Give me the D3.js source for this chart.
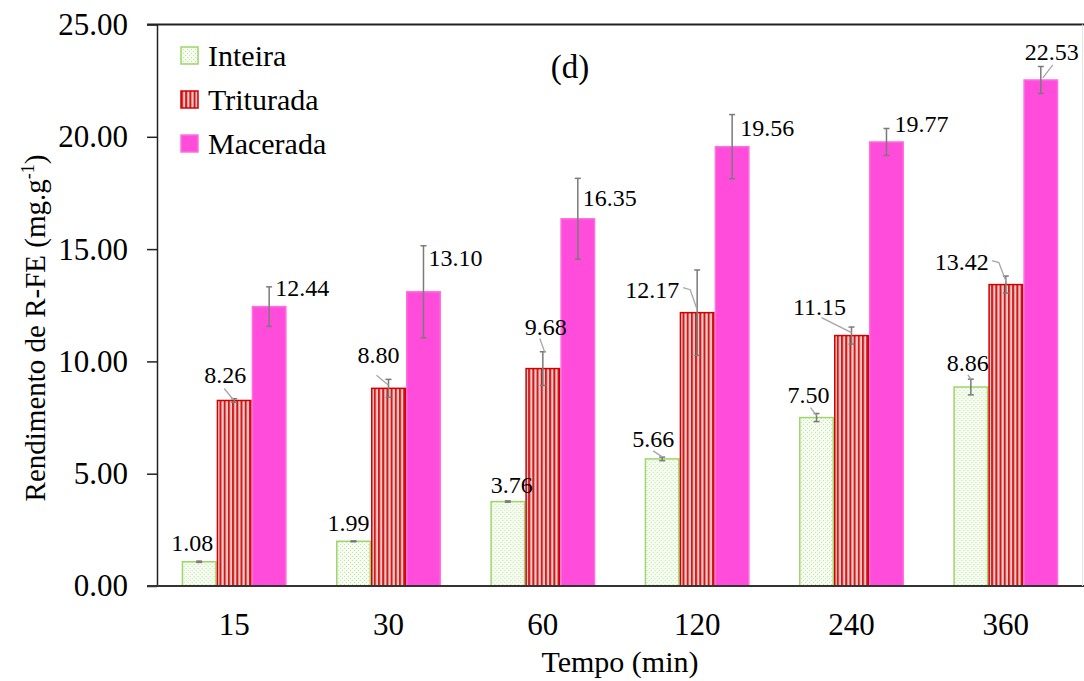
<!DOCTYPE html>
<html>
<head>
<meta charset="utf-8">
<script src="https://cdn.jsdelivr.net/npm/d3@7"></script>
<style>
  html, body { margin: 0; padding: 0; background: #fff; }
  svg text { font-family: "Liberation Serif", "DejaVu Serif", serif; fill: #000; }
</style>
</head>
<body>
<svg id="chart" width="1084" height="681"></svg>
<script>
const FONT = '"Liberation Serif", "DejaVu Serif", serif';

// Extraction time groups (min)
const tempos = ["15", "30", "60", "120", "240", "360"];
const series = ["Inteira", "Triturada", "Macerada"];

// Yield of R-FE (mg.g-1) per sample preparation
const inteira   = [1.08, 1.99, 3.76, 5.66, 7.50, 8.86];
const triturada = [8.26, 8.80, 9.68, 12.17, 11.15, 13.42];
const macerada  = [12.44, 13.10, 16.35, 19.56, 19.77, 22.53];

// Standard deviations (error bars)
const inteiraSd   = [0.03, 0.02, 0.03, 0.08, 0.18, 0.35];
const trituradaSd = [0.08, 0.40, 0.75, 1.90, 0.38, 0.38];
const maceradaSd  = [0.88, 2.05, 1.80, 1.43, 0.60, 0.60];

const yTicks = [0, 5, 10, 15, 20, 25];

// Value-label placement relative to the top of each bar, with optional leader points
const labelLayout = {
  Inteira: [
    { dx: -7, dy: -19 },
    { dx: -5, dy: -18 },
    { dx: 4, dy: -17 },
    { dx: -9, dy: -20, lead: [[-9, -8], [0, -2]] },
    { dx: -8, dy: -23, lead: [[-6, -10], [0, -2]] },
    { dx: -3, dy: -24, lead: [[-3, -12], [0, -8]] }
  ],
  Triturada: [
    { dx: -9, dy: -25, lead: [[-10, -12], [-1, -1]] },
    { dx: -10, dy: -33, lead: [[-12, -13], [0, -3]] },
    { dx: 3, dy: -42, lead: [[-3, -30], [2, -16]] },
    { dx: -45, dy: -23, lead: [[-14, -25], [-7, -23], [0, -3]] },
    { dx: -32, dy: -29, lead: [[-30, -18], [0, -3]] },
    { dx: -44, dy: -23, lead: [[-14, -24], [-7, -22], [1, -1]] }
  ],
  Macerada: [
    { dx: 33, dy: -19 },
    { dx: 32, dy: -34 },
    { dx: 32, dy: -21 },
    { dx: 35, dy: -19 },
    { dx: 35, dy: -18 },
    { dx: 11, dy: -28, lead: [[12, -15], [2, -2]] }
  ]
};

const rows = tempos.map((t, i) => ({
  tempo: t,
  values: [
    { key: "Inteira", v: inteira[i], sd: inteiraSd[i], i },
    { key: "Triturada", v: triturada[i], sd: trituradaSd[i], i },
    { key: "Macerada", v: macerada[i], sd: maceradaSd[i], i }
  ]
}));

const svg = d3.select("#chart");
const plotLeft = 157, plotRight = 1083, plotTop = 24.5, plotBottom = 586;

const x0 = d3.scaleBand().domain(tempos).range([plotLeft, plotRight])
  .paddingInner(0.32).paddingOuter(0.16);
const x1 = d3.scaleBand().domain(series).range([0, x0.bandwidth()]);
const y = d3.scaleLinear().domain([0, 25]).range([plotBottom, plotTop]);

// Fill patterns
const defs = svg.append("defs");
const dots = defs.append("pattern").attr("id", "pInteira")
  .attr("patternUnits", "userSpaceOnUse").attr("width", 4).attr("height", 4);
dots.append("rect").attr("width", 4).attr("height", 4).attr("fill", "#f6fbf1");
dots.append("rect").attr("x", 0).attr("y", 0).attr("width", 1).attr("height", 1).attr("fill", "#c4e3a3");
dots.append("rect").attr("x", 2).attr("y", 2).attr("width", 1).attr("height", 1).attr("fill", "#c4e3a3");

const stripes = defs.append("pattern").attr("id", "pTriturada")
  .attr("patternUnits", "userSpaceOnUse").attr("width", 4.2).attr("height", 10);
stripes.append("rect").attr("width", 4.2).attr("height", 10).attr("fill", "#f3c9c9");
stripes.append("rect").attr("width", 2).attr("height", 10).attr("fill", "#cf1a1a");

const fills = { Inteira: "url(#pInteira)", Triturada: "url(#pTriturada)", Macerada: "#ff4cdb" };
const strokes = { Inteira: "#9ed66a", Triturada: "#d40000", Macerada: "#ff6ee0" };

// Bars
const groups = svg.append("g").selectAll("g").data(rows).join("g")
  .attr("transform", d => `translate(${x0(d.tempo)},0)`);

groups.selectAll("rect").data(d => d.values).join("rect")
  .attr("x", d => x1(d.key) + 0.75)
  .attr("y", d => y(d.v))
  .attr("width", x1.bandwidth() - 1.5)
  .attr("height", d => y(0) - y(d.v))
  .attr("fill", d => fills[d.key])
  .attr("stroke", d => strokes[d.key])
  .attr("stroke-width", 1.5);

// Error bars
const eb = groups.selectAll("g.err").data(d => d.values).join("g").attr("class", "err")
  .attr("stroke", "#7a7a7a").attr("stroke-width", 1.5).attr("fill", "none");
eb.append("line")
  .attr("x1", d => x1(d.key) + x1.bandwidth() / 2)
  .attr("x2", d => x1(d.key) + x1.bandwidth() / 2)
  .attr("y1", d => y(d.v + d.sd)).attr("y2", d => y(d.v - d.sd));
[1, -1].forEach(s => {
  eb.append("line")
    .attr("x1", d => x1(d.key) + x1.bandwidth() / 2 - 3)
    .attr("x2", d => x1(d.key) + x1.bandwidth() / 2 + 3)
    .attr("y1", d => y(d.v + s * d.sd)).attr("y2", d => y(d.v + s * d.sd));
});

// Value labels and leader lines
const labs = svg.append("g");
rows.forEach(r => {
  r.values.forEach(d => {
    const cx = x0(r.tempo) + x1(d.key) + x1.bandwidth() / 2;
    const ty = y(d.v);
    const L = labelLayout[d.key][d.i];
    if (L.lead) {
      labs.append("path")
        .attr("d", d3.line()(L.lead.map(p => [cx + p[0], ty + p[1]])))
        .attr("fill", "none").attr("stroke", "#a6a6a6").attr("stroke-width", 1.3);
    }
    labs.append("text")
      .attr("x", cx + L.dx).attr("y", ty + L.dy + 8)
      .attr("text-anchor", "middle")
      .attr("font-family", FONT).attr("font-size", 24)
      .text(d3.format(".2f")(d.v));
  });
});

// Axes
const yAxis = d3.axisLeft(y).tickValues(yTicks).tickFormat(d3.format(".2f"))
  .tickSize(10).tickSizeOuter(0).tickPadding(19);
const gy = svg.append("g").attr("transform", `translate(${plotLeft},0)`).call(yAxis);
gy.attr("font-family", FONT).attr("font-size", 31);
gy.selectAll("text").attr("font-family", FONT).attr("font-size", 31);
gy.selectAll("line, path").attr("stroke", "#222").attr("stroke-width", 1.5);

const xAxis = d3.axisBottom(x0).tickSize(0).tickPadding(27);
const gx = svg.append("g").attr("transform", `translate(0,${plotBottom})`).call(xAxis);
gx.select(".domain").remove();
gx.attr("font-family", FONT).attr("font-size", 31);
gx.selectAll("text").attr("font-family", FONT).attr("font-size", 31);

// Frame lines
svg.append("line").attr("x1", plotLeft - 10).attr("x2", 1084).attr("y1", plotBottom).attr("y2", plotBottom)
  .attr("stroke", "#333").attr("stroke-width", 2.2);
svg.append("line").attr("x1", plotLeft - 10).attr("x2", 1084).attr("y1", plotTop).attr("y2", plotTop)
  .attr("stroke", "#222").attr("stroke-width", 2);
svg.append("line").attr("x1", 1082.5).attr("x2", 1082.5).attr("y1", plotTop).attr("y2", plotBottom)
  .attr("stroke", "#e6e6e6").attr("stroke-width", 1);

// Axis titles
svg.append("text").attr("x", 620).attr("y", 672).attr("text-anchor", "middle")
  .attr("font-family", FONT).attr("font-size", 30).text("Tempo (min)");

const yt = svg.append("text").attr("transform", "translate(45,328) rotate(-90)")
  .attr("text-anchor", "middle").attr("font-family", FONT).attr("font-size", 29);
yt.append("tspan").text("Rendimento de R-FE (mg.g");
yt.append("tspan").attr("dy", -11).attr("font-size", 18).text("-1");
yt.append("tspan").attr("dy", 11).text(")");

// Panel tag
svg.append("text").attr("x", 570).attr("y", 78).attr("text-anchor", "middle")
  .attr("font-family", FONT).attr("font-size", 33).text("(d)");

// Legend
const lg = svg.append("g").attr("transform", "translate(181,47)");
series.forEach((s, i) => {
  const g = lg.append("g").attr("transform", `translate(0,${i * 44})`);
  g.append("rect").attr("width", 17).attr("height", 17)
    .attr("fill", fills[s]).attr("stroke", strokes[s]).attr("stroke-width", 1.5);
  g.append("text").attr("x", 27).attr("y", 19)
    .attr("font-family", FONT).attr("font-size", 30).text(s);
});
</script>
</body>
</html>
